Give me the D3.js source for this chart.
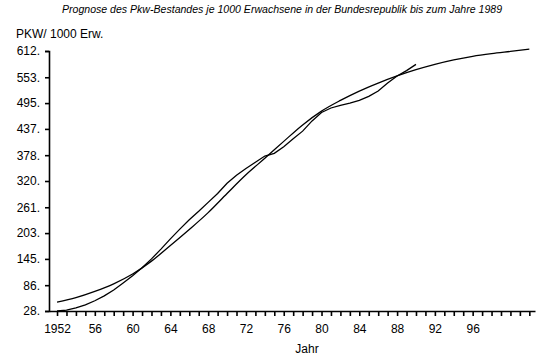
<!DOCTYPE html>
<html>
<head>
<meta charset="utf-8">
<script src="https://cdn.jsdelivr.net/npm/d3@7"></script>
<style>
    body { margin: 0; background: #fff; }
    text { font-family: "Liberation Sans", Arial, sans-serif; fill: #000; }
</style>
</head>
<body>
<div id="chart"></div>
<script>
// Chart data
var titleText = "Prognose des Pkw-Bestandes je 1000 Erwachsene in der Bundesrepublik bis zum Jahre 1989";
var yAxisTitle = "PKW/ 1000 Erw.";
var xAxisTitle = "Jahr";

// y tick values as printed on the axis
var yTicks = [28, 86, 145, 203, 261, 320, 378, 437, 495, 553, 612];
var yTickLabels = ["28.", "86.", "145.", "203.", "261.", "320.", "378.", "437.", "495.", "553.", "612."];

// x labels every four years
var xTicks = [1952, 1956, 1960, 1964, 1968, 1972, 1976, 1980, 1984, 1988, 1992, 1996];
var xTickLabels = ["1952", "56", "60", "64", "68", "72", "76", "80", "84", "88", "92", "96"];

// actual stock (wavy line)
var actualYears = [1952, 1953, 1954, 1955, 1956, 1957, 1958, 1959, 1960, 1961,
                   1962, 1963, 1964, 1965, 1966, 1967, 1968, 1969, 1970, 1971,
                   1972, 1973, 1974, 1975, 1976, 1977, 1978, 1979, 1980, 1981,
                   1982, 1983, 1984, 1985, 1986, 1987, 1988, 1989, 1990];
var actualValues = [28, 30, 35, 42, 51, 62, 75, 91, 107, 125,
                    145, 167, 190, 212, 233, 252, 272, 292, 315, 333,
                    348, 362, 376, 382, 397, 415, 432, 455, 474, 484,
                    490, 495, 501, 510, 522, 540, 556, 568, 582];

// fitted prognosis (smooth line)
var trendYears = [1952, 1954, 1956, 1958, 1960, 1962, 1964, 1966, 1968, 1970,
                  1972, 1974, 1976, 1978, 1980, 1982, 1984, 1986, 1988, 1990,
                  1992, 1994, 1996, 1998, 2000, 2002];
var trendValues = [48, 58, 72, 89, 111, 140, 175, 211, 249, 292,
                   334, 371, 409, 446, 477, 501, 522, 540, 556, 570,
                   582, 592, 600, 606, 611, 616];

window.onload = function() {
    drawChart();
};

function drawChart() {
    var w = 560;
    var h = 358;

    var svg = d3.select("#chart")
                .append("svg")
                .attr("width", w)
                .attr("height", h);

    // scales
    var x = d3.scaleLinear().domain([1951.15, 2002.6]).range([49, 535]);
    var y = d3.scaleLinear().domain([28, 612]).range([311, 51]);

    // title
    svg.append("text")
       .attr("x", 62)
       .attr("y", 13)
       .attr("textLength", 440)
       .attr("lengthAdjust", "spacingAndGlyphs")
       .style("font-size", "11px")
       .style("font-style", "italic")
       .text(titleText);

    svg.append("text")
       .attr("x", 16)
       .attr("y", 38)
       .style("font-size", "12px")
       .text(yAxisTitle);

    // y axis
    var yAxis = d3.axisLeft(y)
                  .tickValues(yTicks)
                  .tickSize(4)
                  .tickPadding(5)
                  .tickFormat(function(d, i) { return yTickLabels[i]; });
    var gy = svg.append("g")
                .attr("transform", "translate(49,0)")
                .call(yAxis);
    gy.select(".domain").attr("stroke-width", 1.6);
    gy.selectAll(".tick line").attr("stroke-width", 1.6);
    gy.selectAll("text").style("font-size", "12px").style("font-family", "Liberation Sans, Arial, sans-serif");

    // x axis: one minor tick per year
    var minorYears = d3.range(1952, 2003);
    var xMinor = d3.axisBottom(x)
                   .tickValues(minorYears)
                   .tickSize(5)
                   .tickSizeOuter(0)
                   .tickFormat("");
    var gxMinor = svg.append("g")
                     .attr("transform", "translate(0,311)")
                     .call(xMinor);
    gxMinor.select(".domain").attr("stroke-width", 1.6);
    gxMinor.selectAll(".tick line").attr("stroke-width", 1.6);

    // x labels
    var xAxis = d3.axisBottom(x)
                  .tickValues(xTicks)
                  .tickSize(0)
                  .tickPadding(13)
                  .tickFormat(function(d, i) { return xTickLabels[i]; });
    var gx = svg.append("g")
                .attr("transform", "translate(0,311)")
                .call(xAxis);
    gx.select(".domain").remove();
    gx.selectAll("text").style("font-size", "12px").style("font-family", "Liberation Sans, Arial, sans-serif");

    svg.append("text")
       .attr("x", 307)
       .attr("y", 353)
       .attr("text-anchor", "middle")
       .style("font-size", "12px")
       .text(xAxisTitle);

    // lines
    var actualLine = d3.line()
                       .x(function(d, i) { return x(actualYears[i]); })
                       .y(function(d) { return y(d); });
    svg.append("path")
       .datum(actualValues)
       .attr("fill", "none")
       .attr("stroke", "#000")
       .attr("stroke-width", 1.3)
       .attr("d", actualLine);

    var trendLine = d3.line()
                      .x(function(d, i) { return x(trendYears[i]); })
                      .y(function(d) { return y(d); })
                      .curve(d3.curveMonotoneX);
    svg.append("path")
       .datum(trendValues)
       .attr("fill", "none")
       .attr("stroke", "#000")
       .attr("stroke-width", 1.3)
       .attr("d", trendLine);
}
</script>
</body>
</html>
